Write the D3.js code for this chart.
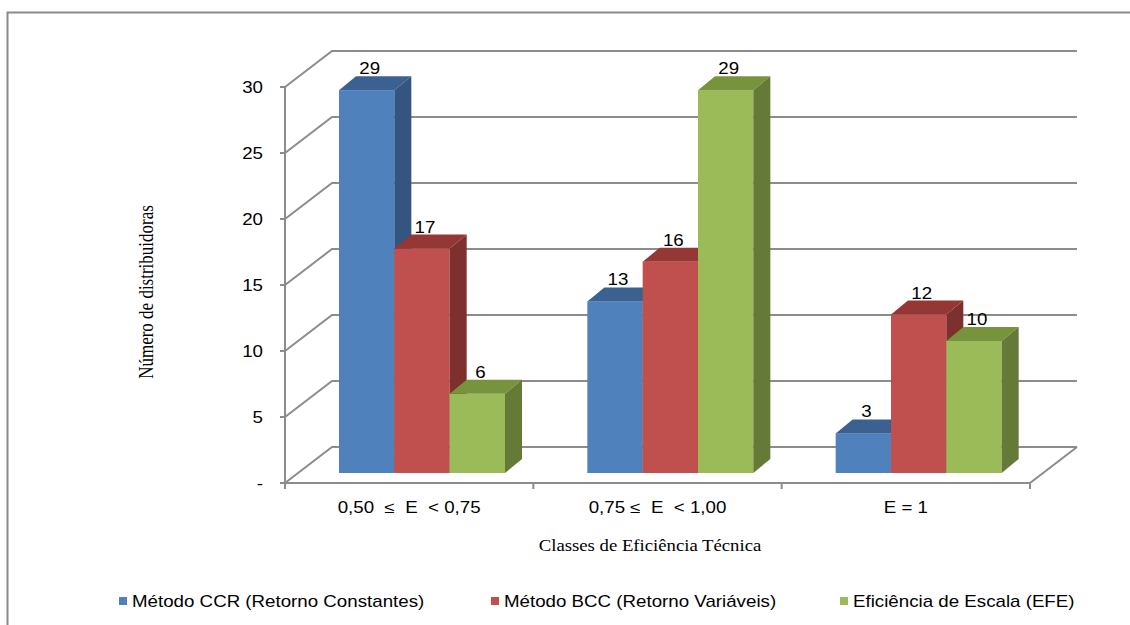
<!DOCTYPE html>
<html>
<head>
<meta charset="utf-8">
<script src="https://cdn.jsdelivr.net/npm/d3@7"></script>
<style>
  html, body { margin: 0; padding: 0; background: #fff; }
  svg text { font-family: "Liberation Sans", Arial, sans-serif; fill: #000; }
  .serif { font-family: "Liberation Serif", "Times New Roman", serif; }
</style>
</head>
<body>
<svg id="chart" width="1130" height="625"></svg>
<script>
// Data
const categories = ["0,50  \u2264  E  < 0,75", "0,75 \u2264  E  < 1,00", "E = 1"];
const series = ["Método CCR (Retorno Constantes)", "Método BCC (Retorno Variáveis)", "Eficiência de Escala (EFE)"];
const ccrValues = [29, 13, 3];
const bccValues = [17, 16, 12];
const efeValues = [6, 29, 10];
const yTicks = [0, 5, 10, 15, 20, 25, 30];
const yTickLabels = ["-", "5", "10", "15", "20", "25", "30"];

(function () {
  const values = [ccrValues, bccValues, efeValues];
  const faceColors = ["#4F81BD", "#C0504D", "#9BBB59"];
  const topColors = ["#3B6190", "#953735", "#77933C"];
  const sideColors = ["#34557F", "#7E302E", "#647A36"];
  const stretch = 1.17; // text is rendered slightly wide

  const svg = d3.select("#chart");

  // Places a horizontally widened text element at (x, y)
  function addText(parent, x, y, str, opts) {
    opts = opts || {};
    const t = parent.append("text")
      .attr("transform", `translate(${x},${y}) scale(${stretch},1)`)
      .attr("text-anchor", opts.anchor || "start")
      .style("font-size", (opts.size || 16) + "px")
      .style("white-space", "pre")
      .text(str);
    if (opts.cls) t.attr("class", opts.cls);
    return t;
  }

  // Plot geometry (front plane + perspective depth)
  const plotLeft = 285, plotRight = 1030, plotBottom = 483, plotTop = 87;
  const wallDx = 47, wallDy = -36;       // full floor depth
  const barShift = { dx: 13, dy: -10 };  // bar front offset into the floor
  const barDepth = { dx: 17, dy: -14 };  // bar thickness

  const x0 = d3.scaleBand().domain(categories).range([plotLeft, plotRight]).padding(0);
  const x1 = d3.scaleBand().domain(series).range([41, 207]).padding(0);
  const y = d3.scaleLinear().domain([0, 30]).range([plotBottom, plotTop]);

  // Outer frame (top and left edges)
  svg.append("path")
    .attr("d", "M7.5,625 L7.5,12.5 L1130,12.5")
    .attr("fill", "none").attr("stroke", "#8a8a8a").attr("stroke-width", 2);

  const grid = svg.append("g").attr("stroke", "#8c8c8c").attr("stroke-width", 2).attr("fill", "none");

  // Back-wall gridlines and side-wall diagonals
  yTicks.forEach(t => {
    const yy = y(t);
    grid.append("path")
      .attr("d", `M${plotLeft},${yy} L${plotLeft + wallDx},${yy + wallDy} L${plotRight + wallDx},${yy + wallDy}`);
  });

  // Floor
  grid.append("path")
    .attr("d", `M${plotLeft},${plotBottom} L${plotRight},${plotBottom} L${plotRight + wallDx},${plotBottom + wallDy}`);

  // Front vertical axis
  grid.append("line").attr("x1", plotLeft).attr("x2", plotLeft).attr("y1", y(30)).attr("y2", plotBottom);

  // Y tick marks and labels
  yTicks.forEach((t, i) => {
    grid.append("line").attr("x1", plotLeft - 5).attr("x2", plotLeft).attr("y1", y(t)).attr("y2", y(t));
    addText(svg, 263, y(t) + 6, yTickLabels[i], { anchor: "end" });
  });

  // X tick marks at category boundaries
  const bounds = categories.map(c => x0(c)).concat([plotRight]);
  bounds.forEach(bx => {
    grid.append("line").attr("x1", bx).attr("x2", bx).attr("y1", plotBottom).attr("y2", plotBottom + 6);
  });

  // Category labels
  categories.forEach(c => {
    addText(svg, x0(c) + x0.bandwidth() / 2, 513, c, { anchor: "middle" });
  });

  // 3D bars, drawn left to right so nearer faces overlap
  const bars = svg.append("g");
  const labels = svg.append("g");
  categories.forEach((c, ci) => {
    series.forEach((s, si) => {
      const v = values[si][ci];
      const xl = x0(c) + barShift.dx + x1(s);
      const xr = xl + x1.bandwidth();
      const yb = plotBottom + barShift.dy;
      const yt = y(v) + barShift.dy;
      const dx = barDepth.dx, dy = barDepth.dy;
      bars.append("rect")
        .attr("x", xl).attr("y", yt).attr("width", xr - xl).attr("height", yb - yt)
        .attr("fill", faceColors[si]);
      bars.append("path")
        .attr("d", `M${xl},${yt} L${xl + dx},${yt + dy} L${xr + dx},${yt + dy} L${xr},${yt} Z`)
        .attr("fill", topColors[si]);
      bars.append("path")
        .attr("d", `M${xr},${yt} L${xr + dx},${yt + dy} L${xr + dx},${yb + dy} L${xr},${yb} Z`)
        .attr("fill", sideColors[si]);
      addText(labels, (xl + xr) / 2 + 3, yt + dy - 2, String(v), { anchor: "middle" });
    });
  });

  // Axis titles
  svg.append("text")
    .attr("class", "serif")
    .attr("transform", `translate(153,292) rotate(-90) scale(1,${stretch})`)
    .attr("text-anchor", "middle")
    .style("font-size", "17px")
    .text("Número de distribuidoras");

  addText(svg, 650, 551, "Classes de Eficiência Técnica", { anchor: "middle", cls: "serif" });

  // Legend
  const legendX = [119, 491, 840];
  series.forEach((s, i) => {
    svg.append("rect")
      .attr("x", legendX[i]).attr("y", 597).attr("width", 8).attr("height", 8)
      .attr("fill", faceColors[i]);
    addText(svg, legendX[i] + 13, 607, s);
  });
})();
</script>
</body>
</html>
